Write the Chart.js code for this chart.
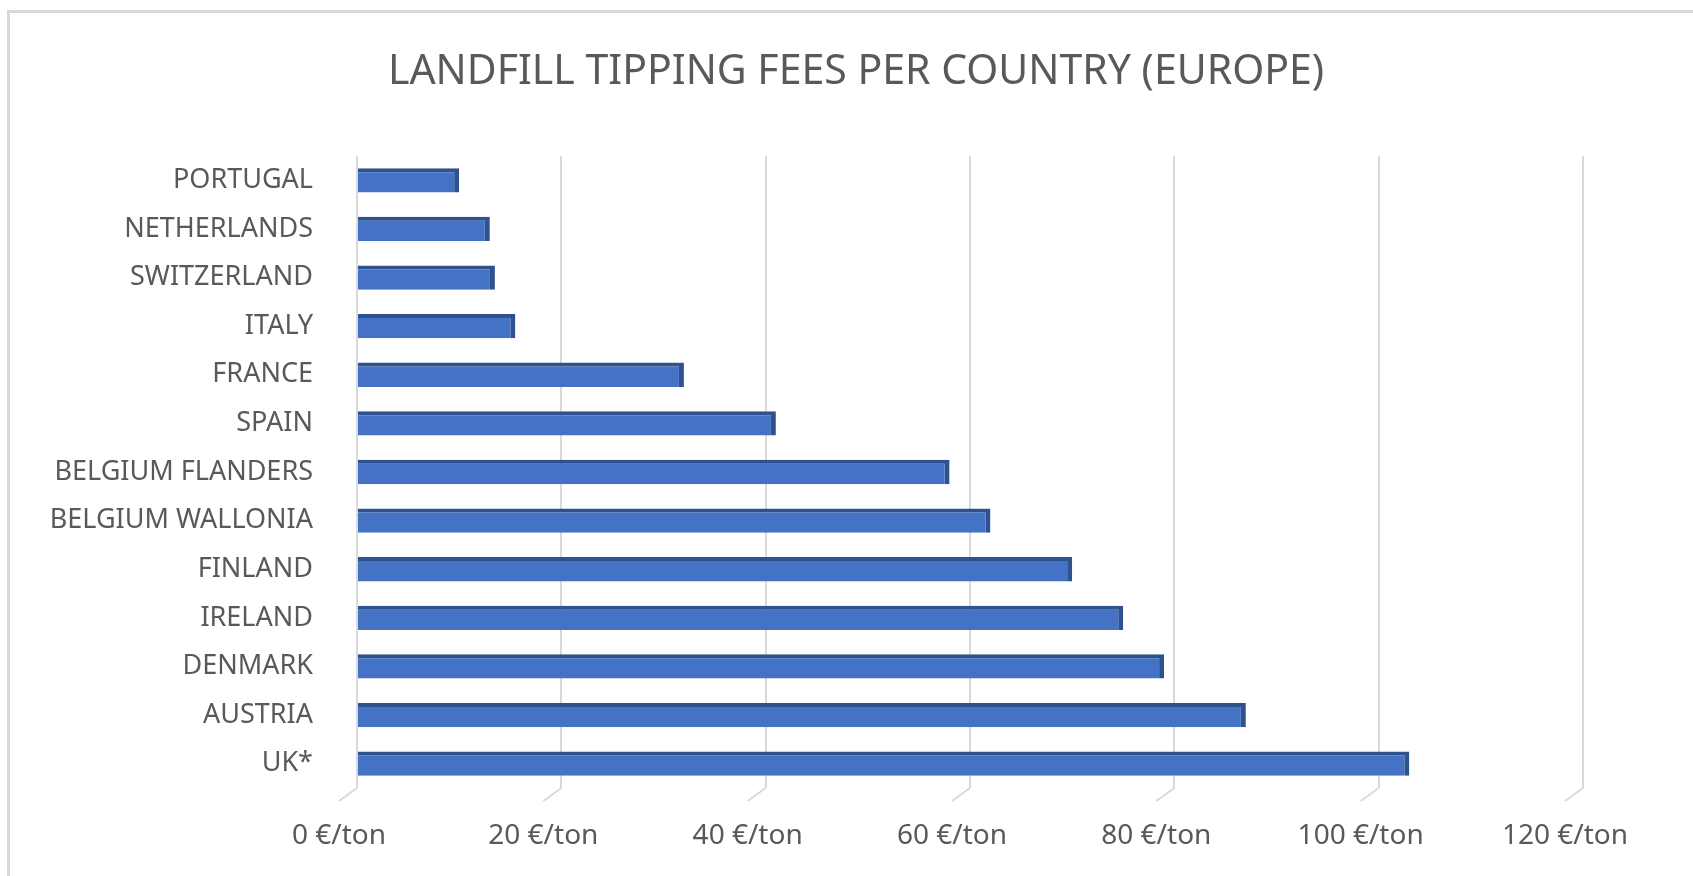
<!DOCTYPE html>
<html>
<head>
<meta charset="utf-8">
<title>Landfill tipping fees per country (Europe)</title>
<script src="https://cdn.jsdelivr.net/npm/chart.js@4"></script>
<style>
  html, body { margin: 0; padding: 0; background: #fff; overflow: hidden; }
  #wrap { position: relative; width: 1693px; height: 876px; }
  #frame {
    position: absolute; left: 7px; top: 10px; width: 2000px; height: 2000px;
    border-left: 3px solid #d9d9d9; border-top: 3px solid #d9d9d9;
  }
  #title {
    position: absolute; left: 0; top: 44px; width: 1712px;
    text-align: center; white-space: nowrap;
    font: 41px/49px 'Noto Sans', 'Open Sans', sans-serif; color: #595959;
  }
  canvas { position: absolute; left: 0; top: 0; }
</style>
</head>
<body>
<div id="wrap">
  <div id="frame"></div>
  <canvas id="chart" width="1693" height="876"></canvas>
  <div id="title">LANDFILL TIPPING FEES PER COUNTRY (EUROPE)</div>
</div>
<script>
// data
const countries = ['PORTUGAL', 'NETHERLANDS', 'SWITZERLAND', 'ITALY', 'FRANCE', 'SPAIN',
  'BELGIUM FLANDERS', 'BELGIUM WALLONIA', 'FINLAND', 'IRELAND', 'DENMARK', 'AUSTRIA', 'UK*'];
const fees = [10, 13, 13.5, 15.5, 32, 41, 58, 62, 70, 75, 79, 87, 103];
const feeTicks = [0, 20, 40, 60, 80, 100, 120];

const FONT = "'Noto Sans', 'Open Sans', sans-serif";
const TEXT = '#595959';
const GRID = '#d9d9d9';

// little slanted "floor" strokes under each gridline, like the 3D original
const floorLines = {
  id: 'floorLines',
  afterDraw(chart) {
    const { ctx, chartArea, scales } = chart;
    ctx.save();
    ctx.strokeStyle = GRID;
    ctx.lineWidth = 2;
    feeTicks.forEach(v => {
      const x = scales.x.getPixelForValue(v);
      ctx.beginPath();
      ctx.moveTo(x, chartArea.bottom);
      ctx.lineTo(x - 18, chartArea.bottom + 13);
      ctx.stroke();
    });
    ctx.restore();
  }
};

new Chart(document.getElementById('chart').getContext('2d'), {
  type: 'bar',
  data: {
    labels: countries,
    datasets: [{
      data: fees,
      backgroundColor: '#4472c4',
      borderColor: '#2f528f',
      borderWidth: { top: 4, right: 5, bottom: 0, left: 0 },
      borderSkipped: false,
      categoryPercentage: 1,
      barPercentage: 0.5,
    }],
  },
  options: {
    indexAxis: 'y',
    responsive: false,
    animation: false,
    layout: { padding: { left: 0, right: 110, top: 156, bottom: 0 } },
    plugins: {
      legend: { display: false },
      tooltip: { enabled: false },
      title: { display: false },
    },
    scales: {
      x: {
        min: 0,
        max: 120,
        afterBuildTicks: s => { s.ticks = feeTicks.map(v => ({ value: v })); },
        afterFit: s => { s.height = 88; },
        grid: { color: GRID, lineWidth: 2, drawTicks: false },
        border: { display: false },
        ticks: {
          color: TEXT,
          font: { family: FONT, size: 28 },
          padding: 31,
          labelOffset: -18,
          callback: v => v + ' €/ton',
        },
      },
      y: {
        afterFit: s => { s.width = 357; },
        grid: { display: false, drawTicks: false },
        border: { display: false },
        ticks: {
          color: TEXT,
          font: { family: FONT, size: 27 },
          padding: 44,
        },
      },
    },
  },
  plugins: [floorLines],
});
</script>
</body>
</html>
